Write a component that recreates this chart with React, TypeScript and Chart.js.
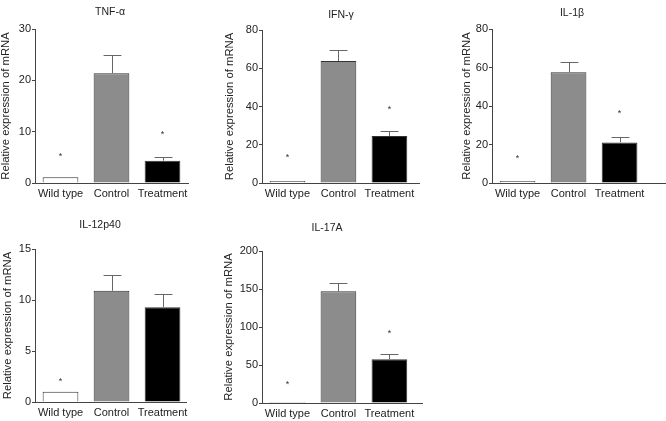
import React, { useEffect, useRef } from 'react';
import { Chart, registerables } from 'chart.js';

Chart.register(...registerables);

// ---- data ----
const categories = ['Wild type', 'Control', 'Treatment'];
const barColors = ['#ffffff', '#8c8c8c', '#000000'];

const tnfTitle = 'TNF-α';
const tnfValues = [1.1, 21.4, 4.35];
const tnfErrors = [0, 3.6, 0.8];
const tnfStars = [5.7, null, 10];
const tnfTicks = { max: 30, step: 10 };

const ifnTitle = 'IFN-γ';
const ifnValues = [1.0, 63.8, 24.6];
const ifnErrors = [0, 5.8, 2.8];
const ifnStars = [14.7, null, 40];
const ifnTicks = { max: 80, step: 20 };

const il1Title = 'IL-1β';
const il1Values = [1.0, 57.5, 21.1];
const il1Errors = [0, 5.5, 2.8];
const il1Stars = [14.5, null, 37.9];
const il1Ticks = { max: 80, step: 20 };

const il12Title = 'IL-12p40';
const il12Values = [1.0, 10.9, 9.3];
const il12Errors = [0, 1.6, 1.3];
const il12Stars = [2.35, null, null];
const il12Ticks = { max: 15, step: 5 };

const il17Title = 'IL-17A';
const il17Values = [1.3, 147, 57.5];
const il17Errors = [0, 10.5, 6.5];
const il17Stars = [28, null, 96];
const il17Ticks = { max: 200, step: 50 };

const yTitle = 'Relative expression of mRNA';

const FONT = "'Liberation Sans', Arial, Helvetica, sans-serif";

type Geo = {
  left: number; top: number; width: number; height: number;
  padLeft: number; padRight: number; yWidth: number;
  chartTop: number; xHeight: number; xMax: number;
  titleX: number; titleY: number;
};

type Spec = {
  title: string; values: number[]; errors: number[]; stars: (number | null)[];
  ticks: { max: number; step: number }; geo: Geo;
};

const specs: Spec[] = [
  { title: tnfTitle, values: tnfValues, errors: tnfErrors, stars: tnfStars, ticks: tnfTicks,
    geo: { left: 0, top: 0, width: 222, height: 205, padLeft: 0, padRight: 34, yWidth: 35, chartTop: 29, xHeight: 22, xMax: 2.5, titleX: 110, titleY: 12 } },
  { title: ifnTitle, values: ifnValues, errors: ifnErrors, stars: ifnStars, ticks: ifnTicks,
    geo: { left: 222, top: 0, width: 222, height: 205, padLeft: 1.85, padRight: 25, yWidth: 38.15, chartTop: 30, xHeight: 22, xMax: 2.58, titleX: 119, titleY: 15 } },
  { title: il1Title, values: il1Values, errors: il1Errors, stars: il1Stars, ticks: il1Ticks,
    geo: { left: 444, top: 0, width: 222, height: 205, padLeft: 16.85, padRight: 0, yWidth: 31.15, chartTop: 29, xHeight: 22, xMax: 2.91, titleX: 128, titleY: 13 } },
  { title: il12Title, values: il12Values, errors: il12Errors, stars: il12Stars, ticks: il12Ticks,
    geo: { left: 0, top: 210, width: 222, height: 211, padLeft: 1.85, padRight: 36, yWidth: 33.15, chartTop: 39, xHeight: 19, xMax: 2.46, titleX: 100, titleY: 15 } },
  { title: il17Title, values: il17Values, errors: il17Errors, stars: il17Stars, ticks: il17Ticks,
    geo: { left: 222, top: 210, width: 222, height: 211, padLeft: 0.85, padRight: 22, yWidth: 39.15, chartTop: 41, xHeight: 18, xMax: 2.64, titleX: 105, titleY: 18 } },
];

const decorPlugin = {
  id: 'decor',
  afterDatasetsDraw(chart: any) {
    const ds: any = chart.data.datasets[0];
    const meta = chart.getDatasetMeta(0);
    const y = chart.scales.y;
    const ctx = chart.ctx;
    ctx.save();
    // error bars
    ctx.strokeStyle = '#666';
    ctx.lineWidth = 1;
    meta.data.forEach((bar: any, i: number) => {
      const e = ds.errors[i];
      if (!e) return;
      const v = ds.values[i];
      const top = Math.round(y.getPixelForValue(v + e)) + 0.5;
      const base = y.getPixelForValue(v);
      const cx = Math.round(bar.x) + 0.5;
      const half = bar.width / 4;
      ctx.beginPath();
      ctx.moveTo(cx, base);
      ctx.lineTo(cx, top);
      ctx.moveTo(cx - half, top);
      ctx.lineTo(cx + half, top);
      ctx.stroke();
    });
    // asterisks
    ctx.fillStyle = '#333';
    ctx.font = `9px ${FONT}`;
    ctx.textAlign = 'center';
    ctx.textBaseline = 'alphabetic';
    meta.data.forEach((bar: any, i: number) => {
      const s = ds.stars[i];
      if (s === null || s === undefined) return;
      ctx.fillText('*', bar.x, y.getPixelForValue(s) + 5.5);
    });
    // panel title
    ctx.fillStyle = '#222';
    ctx.font = `10.5px ${FONT}`;
    ctx.textBaseline = 'middle';
    ctx.fillText(ds.panelTitle, ds.titleX, ds.titleY);
    ctx.restore();
  },
};

function Panel({ spec }: { spec: Spec }) {
  const ref = useRef<HTMLCanvasElement | null>(null);
  useEffect(() => {
    const g = spec.geo;
    const chart = new Chart(ref.current as HTMLCanvasElement, {
      type: 'bar',
      data: {
        datasets: [
          {
            data: spec.values.map((v, i) => ({ x: i, y: v })),
            backgroundColor: barColors,
            borderColor: '#333',
            borderWidth: 1,
            categoryPercentage: 0.7,
            barPercentage: 1,
            values: spec.values,
            errors: spec.errors,
            stars: spec.stars,
            panelTitle: spec.title,
            titleX: g.titleX,
            titleY: g.titleY,
          } as any,
        ],
      },
      options: {
        animation: false,
        responsive: false,
        devicePixelRatio: 1,
        events: [],
        layout: { padding: { left: g.padLeft, right: g.padRight, top: g.chartTop, bottom: 0 } },
        plugins: {
          legend: { display: false },
          tooltip: { enabled: false },
          title: { display: false },
        },
        scales: {
          x: {
            type: 'linear',
            offset: false,
            bounds: 'data',
            grace: 0,
            min: -0.5,
            max: g.xMax,
            grid: { display: false, drawTicks: false, offset: false },
            border: { display: true, color: '#444', width: 1 },
            afterBuildTicks: (s: any) => {
              s.ticks = categories.map((_, i) => ({ value: i }));
            },
            afterFit: (s: any) => {
              s.height = g.xHeight;
            },
            ticks: {
              autoSkip: false,
              maxRotation: 0,
              padding: 4,
              color: '#222',
              font: { family: FONT, size: 11 },
              callback: (_v: any, i: number) => categories[i],
            },
          },
          y: {
            type: 'linear',
            min: 0,
            max: spec.ticks.max,
            grid: { display: true, drawOnChartArea: false, drawTicks: true, tickLength: 3, color: '#444' },
            border: { display: true, color: '#444', width: 1 },
            afterFit: (s: any) => {
              s.width = g.yWidth;
            },
            ticks: {
              stepSize: spec.ticks.step,
              padding: 1,
              color: '#222',
              font: { family: FONT, size: 11 },
            },
            title: {
              display: true,
              text: yTitle,
              color: '#222',
              padding: { top: 0, bottom: 0 },
              font: { family: FONT, size: 11.3, lineHeight: 1 },
            },
          },
        },
      } as any,
      plugins: [decorPlugin],
    });
    return () => chart.destroy();
  }, [spec]);
  const g = spec.geo;
  return (
    <div style={{ position: 'absolute', left: g.left, top: g.top, width: g.width, height: g.height }}>
      <canvas ref={ref} width={g.width} height={g.height} style={{ display: 'block' }} />
    </div>
  );
}

export default function App() {
  return (
    <div style={{ position: 'fixed', left: 0, top: 0, width: 666, height: 421, background: '#ffffff', overflow: 'hidden' }}>
      {specs.map((s) => (
        <Panel key={s.title} spec={s} />
      ))}
    </div>
  );
}
